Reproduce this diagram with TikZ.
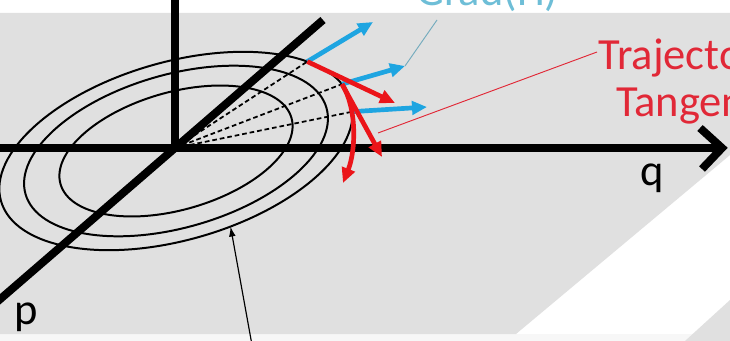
\documentclass[tikz,border=0pt]{standalone}
\usepackage{fontspec}
\setmainfont{Carlito}
\usepackage{tikz}
\usetikzlibrary{arrows.meta,calc}

\definecolor{plane}{RGB}{224,224,224}
\definecolor{gradblue}{RGB}{30,165,225}
\definecolor{tanred}{RGB}{235,20,25}
\definecolor{labred}{RGB}{225,40,55}
\definecolor{labblue}{RGB}{110,190,215}

\begin{document}
\begin{tikzpicture}[x=0.03cm,y=-0.03cm,>=Latex,
  axis/.style={line width=6.8pt},
  contour/.style={line width=1.7pt},
  ray/.style={line width=1.5pt,dash pattern=on 4pt off 2.5pt},
  gradarr/.style={gradblue,line width=4pt,-{Triangle[length=4.5mm,width=4mm]}},
  tanarr/.style={tanred,line width=4pt,-{Triangle[length=4.5mm,width=4mm]}},
  lbl/.style={font=\fontsize{38}{44}\selectfont,inner sep=0pt,anchor=base west}]
  \useasboundingbox (0,0) rectangle (730,341);
  \clip (0,0) rectangle (730,341);
  % plane
  \fill[white] (0,0) rectangle (730,341);
  \fill[gray!6] (0,334) rectangle (730,341);
  \fill[plane] (0,13) -- (730,13) -- (730,155) -- (516,334) -- (0,334) -- cycle;
  \fill[plane] (730,300) -- (685,341) -- (730,341) -- cycle;

  \coordinate (O) at (175,148);
  \coordinate (C) at (176,151);
  \coordinate (ztop) at (175,-10);
  \coordinate (qstart) at (-10,148);
  \coordinate (qtip) at (722,148);
  \coordinate (qa) at (700,128);
  \coordinate (qb) at (702,169);
  \coordinate (pfar) at (-17,314);
  \coordinate (pnear) at (323,20);

  % level curves
  \foreach \s in {1,0.86,0.66}
    \draw[contour,rotate around={16:(C)}] (C) ellipse [x radius=182*\s, y radius=89*\s];
  \path[rotate around={16:(C)}] (C) ++(-34:182 and 89) coordinate (s1)
    (C) ++(-12:182 and 89) coordinate (s2) (C) ++(7:182 and 89) coordinate (s3)
    (C) ++(80:182 and 89) coordinate (cpt);

  % axes
  \draw[axis] (ztop) -- (O);
  \draw[axis] (qstart) -- (qtip);
  \draw[axis,line join=miter] (qa) -- (qtip) -- (qb);
  \draw[axis] (pfar) -- (pnear);

  % rays
  \foreach \n in {s1,s2,s3}
    \draw[ray] (O) -- (\n);

  % gradients and tangents
  \coordinate (b1) at (373,22);
  \coordinate (b2) at (405,66);
  \coordinate (b3) at (427,107);
  \coordinate (r1) at (395,103);
  \coordinate (r2) at (382,157);
  \coordinate (r3) at (343,183);
  \draw[gradarr] (s1) -- (b1);
  \draw[gradarr] (s2) -- (b2);
  \draw[gradarr] (s3) -- (b3);
  \draw[tanarr] (s1) -- (r1);
  \draw[tanarr] (s2) -- (r2);
  \draw[tanarr] (s2) .. controls (357,108) and (356,150) .. (r3);

  % labels
  \node[lbl] (q) at (640,186) {q};
  \node[lbl] (p) at (14,324) {p};
  \node[lbl,labblue] (grad) at (416,6) {Grad(H)};
  \node[lbl,labred] (traj) at (598,70) {Trajectory};
  \node[lbl,labred] (tang) at (616,117) {Tangent};
  \coordinate (gradfoot) at (437,20);
  \coordinate (trajfoot) at (597,52);
  \coordinate (trajend) at (378,133);
  \coordinate (below) at (252,345);
  \draw[labblue!70!gray,line width=0.8pt] (gradfoot) -- (b2);
  \draw[labred,line width=0.8pt] (trajfoot) -- (trajend);
  \draw[line width=1pt,-{Latex[length=3mm,width=2mm]}] (below) -- (cpt);
\end{tikzpicture}
\end{document}
